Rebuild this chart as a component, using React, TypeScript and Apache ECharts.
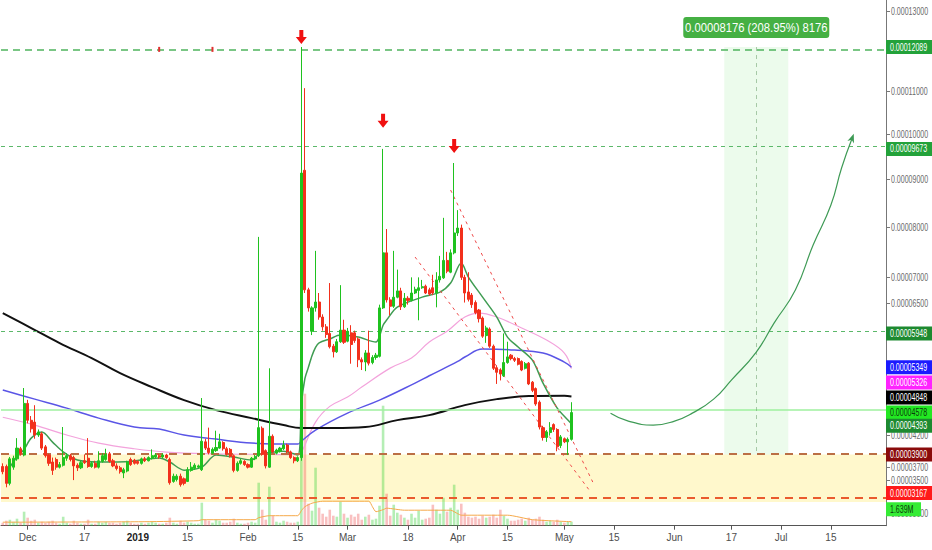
import React, { useEffect, useRef } from 'react';
import * as echarts from 'echarts';

// ---------- categories (daily, Nov 24 2018 .. Jul 30 2019) ----------
const FIRST_DAY_UTC = Date.UTC(2018, 10, 24);
const DAY_COUNT = 249;
const CATEGORIES: string[] = Array.from({ length: DAY_COUNT }, (_, i) =>
  new Date(FIRST_DAY_UTC + i * 86400000).toISOString().slice(0, 10)
);
const X_LABEL_DATES = [
  '2018-12-01', '2018-12-17', '2019-01-01', '2019-01-15', '2019-02-01', '2019-02-15',
  '2019-03-01', '2019-03-18', '2019-04-01', '2019-04-15', '2019-05-01', '2019-05-15',
  '2019-06-01', '2019-06-17', '2019-07-01', '2019-07-15',
];
const MONTHS = ['Jan', 'Feb', 'Mar', 'Apr', 'May', 'Jun', 'Jul', 'Aug', 'Sep', 'Oct', 'Nov', 'Dec'];

// ---------- price data in satoshi: [open, close, low, high] ----------
const CANDLES: number[][] = [
  [3710, 3630, 3590, 3760], [3710, 3450, 3390, 3740], [3450, 3830, 3420, 3860], [3700, 3840, 3660, 3880],
  [3830, 4000, 3800, 4160], [3990, 3920, 3880, 4020], [3890, 4730, 3870, 4990], [4730, 4450, 4400, 4790],
  [4450, 4310, 4250, 4520], [4420, 4210, 4150, 4700], [4210, 4260, 4180, 4300], [4230, 4000, 3970, 4260],
  [4020, 3880, 3850, 4050], [3890, 3760, 3720, 3910], [3780, 3650, 3580, 3850], [3820, 3700, 3660, 3850],
  [3700, 3740, 3680, 3780], [3730, 3850, 3710, 4340], [3840, 3880, 3800, 3920], [3880, 3820, 3790, 3910],
  [3850, 3720, 3500, 3880], [3730, 3690, 3640, 3760], [3690, 3770, 3670, 3800], [3800, 3770, 3750, 3900],
  [3840, 3710, 3690, 4160], [3710, 3760, 3690, 3790], [3760, 3700, 3680, 3800], [3700, 3800, 3680, 3950],
  [3790, 3880, 3770, 3920], [3820, 3900, 3800, 3990], [3910, 3790, 3770, 3940], [3800, 3720, 3700, 3830],
  [3720, 3680, 3650, 3760], [3690, 3630, 3600, 3720], [3610, 3660, 3530, 3690], [3640, 3780, 3620, 3800],
  [3820, 3740, 3720, 3850], [3810, 3760, 3740, 3830],
  // 2019
  [3790, 3760, 3740, 3810], [3760, 3830, 3740, 3850], [3830, 3800, 3780, 3860], [3800, 3850, 3790, 3870],
  [3840, 3880, 3820, 3980], [3860, 3890, 3840, 3920], [3880, 3860, 3830, 3910], [3860, 3890, 3840, 3920],
  [3890, 3850, 3830, 3910], [3820, 3460, 3430, 3850], [3480, 3560, 3460, 3600], [3510, 3560, 3480, 3590],
  [3560, 3430, 3400, 3600], [3520, 3450, 3420, 3540], [3480, 3660, 3470, 3700], [3650, 3700, 3630, 3780],
  [3680, 3730, 3660, 3760], [3700, 3720, 3680, 3740], [3660, 4110, 3640, 4820], [4100, 4000, 3970, 4150],
  [4000, 3930, 3900, 4330], [3920, 3980, 3900, 4010], [3960, 4010, 3940, 4280], [4000, 4100, 3990, 4230],
  [4090, 3990, 3960, 4110], [3990, 3910, 3880, 4020], [3980, 3870, 3850, 4000], [3880, 3650, 3620, 3900],
  [3650, 3760, 3630, 3790], [3760, 3800, 3740, 3830], [3790, 3740, 3720, 3810], [3740, 3700, 3680, 3760],
  [3700, 3840, 3690, 3860], [3830, 3860, 3810, 3890], [3880, 4330, 3860, 7800], [4320, 3900, 3880, 4350],
  [3960, 3720, 3680, 3980], [3700, 4190, 3690, 5330], [4190, 3940, 3920, 4220], [3920, 3970, 3900, 3990],
  [3950, 4000, 3930, 4020], [3990, 4050, 3970, 4120], [4050, 3940, 3920, 4070], [3940, 3850, 3830, 3960],
  [3850, 3800, 3760, 3870], [3800, 3850, 3780, 3870],
  // Feb 16 pump
  [3850, 9140, 3800, 12089], [9200, 6760, 6700, 11080], [6760, 6420, 6350, 6800], [5990, 6420, 5920, 6450],
  [6420, 6530, 6350, 7520], [6530, 6250, 6200, 6700], [6250, 6070, 6000, 6300], [6070, 5930, 5870, 6120],
  [5950, 5710, 5680, 6890], [5720, 5620, 5520, 5760], [5620, 5800, 5600, 5850], [5800, 6010, 5780, 6850],
  [6010, 5790, 5760, 6200], [5810, 5990, 5790, 6050], [5960, 5750, 5410, 6100], [5960, 5820, 5780, 6000],
  [5850, 5480, 5350, 5880], [5480, 5440, 5300, 5520], [5440, 5600, 5280, 5650], [5600, 5420, 5380, 6000],
  [5430, 5520, 5400, 5560], [5520, 5560, 5480, 5600], [5540, 6420, 5520, 6480], [6420, 7480, 6400, 9673],
  [7480, 6570, 6520, 7960], [6570, 6450, 6280, 6620], [6450, 6620, 6420, 7520], [6620, 6740, 6600, 7150],
  [6740, 6440, 6380, 6800], [6440, 6600, 6420, 6700], [6600, 6560, 6480, 6640], [6560, 6700, 6540, 7000],
  [6700, 6770, 6680, 6820], [6750, 6800, 6190, 7000], [6800, 6820, 6780, 6950], [6830, 6700, 6680, 6860],
  [6760, 6680, 6650, 6800], [6800, 6700, 6660, 7050], [6700, 6950, 6430, 7100], [6950, 7020, 6900, 7420],
  [6990, 7330, 6970, 8190], [7330, 7120, 7080, 7500], [7100, 7480, 7080, 7550], [7480, 7880, 7450, 9360],
  [7880, 7980, 7820, 8350], [7980, 7000, 6950, 8050], [7000, 6700, 6520, 7050], [6720, 6580, 6540, 7100],
  [6660, 6480, 6420, 6700], [6520, 6330, 6300, 6560], [6380, 6220, 6150, 6400], [6230, 5900, 5870, 6260],
  [5910, 6050, 5780, 6090], [6030, 5720, 5690, 6060], [5720, 5330, 5300, 5750], [5340, 5260, 5060, 5380],
  [5300, 5230, 5120, 5330], [5200, 5430, 5180, 5950], [5430, 5530, 5410, 5800], [5560, 5500, 5470, 5580],
  [5500, 5470, 5440, 5530], [5500, 5400, 5380, 5520], [5450, 5300, 5280, 5470], [5330, 5410, 5310, 5440],
  [5420, 5060, 5040, 5440], [5090, 4950, 4920, 5110], [4980, 4720, 4690, 5000], [4750, 4340, 4300, 4780],
  [4330, 4170, 4120, 4360], [4170, 4260, 4100, 4290], [4250, 4330, 4200, 4420], [4380, 4300, 4260, 4400],
  [4300, 4020, 3950, 4320], [4040, 4180, 4000, 4210], [4150, 4100, 4080, 4170], [4100, 4140, 3890, 4170],
  [4140, 4578, 4120, 4750],
];

// volume in millions
const VOLUME: number[] = [
  0.3, 0.5, 0.6, 0.4, 0.7, 0.3, 1.4, 0.8, 0.5, 0.6, 0.3, 0.4, 0.3, 0.4, 0.5, 0.3, 0.2, 0.9, 0.3, 0.2, 0.5,
  0.3, 0.2, 0.2, 0.6, 0.2, 0.2, 0.4, 0.3, 0.4, 0.3, 0.3, 0.2, 0.3, 0.4, 0.5, 0.3, 0.2, 0.2, 0.3, 0.2, 0.3,
  0.4, 0.3, 0.2, 0.2, 0.3, 0.8, 0.3, 0.2, 0.5, 0.3, 0.4, 0.3, 0.2, 0.2, 2.3, 0.6, 0.5, 0.3, 0.6, 0.5, 0.3,
  0.3, 0.4, 0.7, 0.3, 0.2, 0.2, 0.3, 0.4, 0.3, 4.3, 1.6, 0.6, 3.9, 1.0, 0.4, 0.3, 0.5, 0.4, 0.3, 0.3, 0.4,
  12.8, 13.2, 2.2, 1.5, 5.8, 1.8, 1.2, 0.9, 1.6, 1.0, 0.9, 2.4, 1.2, 0.8, 1.1, 0.9, 1.2, 0.6, 0.9, 1.1,
  0.6, 0.7, 2.0, 12.0, 3.2, 1.0, 2.1, 1.3, 1.1, 0.8, 0.6, 1.2, 0.8, 1.5, 0.6, 0.7, 0.8, 2.1, 1.6, 1.2,
  2.8, 1.4, 1.8, 4.1, 1.6, 2.2, 1.3, 0.9, 0.8, 0.9, 0.7, 1.0, 0.8, 0.9, 1.1, 0.8, 1.6, 1.0, 0.7, 0.5,
  0.5, 0.6, 0.7, 0.5, 0.8, 0.6, 0.7, 0.9, 0.6, 0.4, 0.5, 0.4, 0.6, 0.4, 0.3, 0.4, 0.4,
];
const VOLUME_MA: number[][] = [
  [0, 0.35], [40, 0.4], [55, 0.5], [56, 0.6], [71, 0.6], [72, 0.8], [75, 1.0], [83, 1.0], [84, 1.5], [85, 1.9],
  [87, 2.25], [90, 2.45], [103, 2.45], [104, 1.9], [105, 1.4], [107, 1.6], [108, 1.75], [113, 1.55], [126, 1.55],
  [128, 1.2], [129, 1.05], [142, 1.05], [149, 0.6], [160, 0.4],
];

// moving averages: [day index, satoshi]
const MA_BLACK: number[][] = [
  [0, 6324], [8, 6048], [16, 5776], [25, 5509], [33, 5246], [42, 5006], [51, 4785], [60, 4618], [70, 4486],
  [79, 4372], [84, 4322], [93, 4322], [102, 4339], [111, 4453], [120, 4535], [130, 4701], [139, 4802],
  [148, 4853], [158, 4858], [160, 4848],
];
const MA_BLUE: number[][] = [
  [0, 4955], [9, 4802], [18, 4651], [27, 4486], [37, 4339], [44, 4306], [51, 4209], [60, 4144], [70, 4080],
  [83, 4064], [84, 4110], [88, 4290], [97, 4568], [106, 4785], [116, 5074], [120, 5200], [128, 5450],
  [130, 5528], [135, 5669], [144, 5651], [152, 5598], [158, 5439], [160, 5349],
];
const MA_PINK: number[][] = [
  [0, 4500], [9, 4370], [18, 4210], [27, 4080], [37, 3990], [46, 3937], [60, 3910], [75, 3900], [83, 3895],
  [84, 3930], [88, 4420], [92, 4680], [97, 4836], [101, 5006], [109, 5333], [115, 5509], [120, 5794],
  [125, 5990], [130, 6250], [134, 6324], [139, 6250], [146, 6048], [153, 5830], [158, 5598], [160, 5326],
];
const EMA_GREEN: number[][] = [
  [2, 3700], [4, 3860], [6, 3980], [8, 4160], [11, 4258], [14, 4096], [17, 3940], [21, 3811], [27, 3780],
  [36, 3790], [44, 3842], [47, 3780], [51, 3654], [56, 3700], [60, 3890], [65, 3858], [70, 3811], [72, 3900],
  [74, 3920], [79, 3952], [83, 3890], [84, 4700], [85, 5150], [86, 5350], [87, 5550], [88, 5700], [89, 5780],
  [92, 5850], [95, 5920], [100, 5884], [105, 5794], [106, 5900], [107, 6100], [108, 6194], [111, 6435],
  [118, 6622], [123, 6718], [126, 6890], [129, 7278], [131, 7006], [135, 6622], [139, 6250], [142, 5884],
  [145, 5705], [149, 5474], [152, 5074], [156, 4651], [159, 4453], [160, 4393],
];

// drawings
const RESISTANCE_LEVELS = [12089, 9673, 5948];
const LAST_PRICE = 4578;
const ZONE_TOP = 3900;
const ZONE_BOTTOM = 3167;
const ARROWS: [string, number][] = [['2019-02-16', 12340], ['2019-03-11', 10310], ['2019-03-31', 9740]];
const TOP_MARKS: [string, number][] = [['2019-01-07', 12030], ['2019-01-22', 12030]];
const CHANNEL: [string, number][][] = [
  [['2019-03-30', 8774], ['2019-05-09', 3470]],
  [['2019-03-20', 7397], ['2019-05-08', 3348]],
];
const TARGET_BOX: [string, string, string] = ['2019-06-15', '2019-07-03', '2019-06-24'];
const PROJECTION: [string, number][] = [
  ['2019-05-14', 4568], ['2019-05-19', 4437], ['2019-05-26', 4372], ['2019-06-01', 4437], ['2019-06-06', 4568],
  ['2019-06-12', 4802], ['2019-06-17', 5126], ['2019-06-24', 5616], ['2019-06-29', 6139], ['2019-07-05', 6756],
  ['2019-07-10', 7636], ['2019-07-15', 8457], ['2019-07-18', 9250], ['2019-07-21', 9918],
];
const MEASURE_TEXT = '0.00008176 (208.95%) 8176';

// axis
const PRICE_MIN = 2818;
const PRICE_MAX = 13302;
const TICK_PRICES = [13000, 11000, 10000, 9000, 8000, 7000, 6500, 4200, 3700, 3500, 3000];
const VOLUME_MAX = 52.57;
const TAG_VALUES = [12089, 9673, 5948, 5349, 5326, 4848, 4578, 4393, 3900, 3167];
const VOLUME_TAG = 1.639;

// log-like price transform (TradingView scale)
const t = (sat: number) => Math.log(sat + 10000);
const fmtSat = (sat: number) => (sat / 1e8).toFixed(8);

const TAG_STYLES = [
  { bg: '#23a23a', fg: '#ffffff', shift: 0 },
  { bg: '#23a23a', fg: '#ffffff', shift: 0 },
  { bg: '#1d8a30', fg: '#ffffff', shift: 0 },
  { bg: '#1b1bff', fg: '#ffffff', shift: 0 },
  { bg: '#ff22ff', fg: '#ffffff', shift: 14 },
  { bg: '#000000', fg: '#ffffff', shift: 1 },
  { bg: '#22e822', fg: '#0b3b0b', shift: 0 },
  { bg: '#1d8a30', fg: '#ffffff', shift: 2 },
  { bg: '#8a0b0b', fg: '#ffffff', shift: 0 },
  { bg: '#ff1a1a', fg: '#ffffff', shift: -9 },
];

const UP = '#1fc21f';
const DOWN = '#f2301c';
const FONT = 'Liberation Sans';

export default function App() {
  const ref = useRef<HTMLDivElement>(null);

  useEffect(() => {
    if (!ref.current) return;
    const chart = echarts.init(ref.current, null, { renderer: 'svg' });
    const labelSet = new Set(X_LABEL_DATES);
    const toLine = (arr: number[][]) => arr.map(([i, v]) => [CATEGORIES[i], t(v)]);
    const last = PROJECTION[PROJECTION.length - 1];

    const option: any = {
      animation: false,
      backgroundColor: '#ffffff',
      grid: { left: 1, right: 46, top: 0, bottom: 24.3, containLabel: false },
      xAxis: {
        type: 'category',
        data: CATEGORIES,
        boundaryGap: true,
        axisLine: { lineStyle: { color: '#555', width: 1 } },
        axisTick: {
          show: true,
          alignWithLabel: true,
          length: 4,
          interval: (_i: number, v: string) => labelSet.has(v),
          lineStyle: { color: '#555' },
        },
        axisLabel: {
          interval: (_i: number, v: string) => labelSet.has(v),
          color: '#4d4d4d',
          fontSize: 10,
          fontFamily: FONT,
          margin: 7,
          formatter: (v: string) => {
            const [y, m, d] = v.split('-').map(Number);
            if (d === 1) return m === 1 ? `{yr|${y}}` : MONTHS[m - 1];
            return String(d);
          },
          rich: { yr: { fontWeight: 'bold', color: '#222', fontSize: 10, fontFamily: FONT } },
        },
        splitLine: { show: false },
      },
      yAxis: [
        {
          type: 'value',
          position: 'right',
          min: t(PRICE_MIN),
          max: t(PRICE_MAX),
          axisLine: { show: true, lineStyle: { color: '#777' } },
          axisTick: { show: true, length: 4, customValues: TICK_PRICES.map(t), lineStyle: { color: '#777' } },
          axisLabel: { show: false },
          splitLine: { show: false },
        },
        { type: 'value', min: 0, max: VOLUME_MAX, show: false, splitLine: { show: false } },
      ],
      series: [
        {
          type: 'line',
          name: 'zones',
          data: [],
          z: 1,
          silent: true,
          markArea: {
            silent: true,
            data: [
              [{ yAxis: t(ZONE_TOP), itemStyle: { color: '#fff8cc' } }, { yAxis: t(ZONE_BOTTOM) }],
              [
                { xAxis: TARGET_BOX[0], yAxis: t(RESISTANCE_LEVELS[0]), itemStyle: { color: 'rgba(150,235,150,0.18)' } },
                { xAxis: TARGET_BOX[1], yAxis: t(ZONE_TOP) },
              ],
            ],
          },
        },
        {
          type: 'bar',
          name: 'volume',
          yAxisIndex: 1,
          barWidth: 2.6,
          z: 2,
          data: VOLUME.map((v, i) => ({
            value: v,
            itemStyle: { color: CANDLES[i][1] >= CANDLES[i][0] ? 'rgba(60,210,60,0.38)' : 'rgba(240,90,90,0.38)' },
          })),
        },
        {
          type: 'line',
          name: 'volume ma',
          yAxisIndex: 1,
          z: 3,
          showSymbol: false,
          smooth: 0.2,
          lineStyle: { color: '#f5a94a', width: 1 },
          data: VOLUME_MA.map(([i, v]) => [CATEGORIES[i], v]),
        },
        {
          type: 'line', name: 'MA50', z: 4, showSymbol: false, smooth: 0.4,
          lineStyle: { color: '#f3a3dc', width: 1.2 }, data: toLine(MA_PINK),
        },
        {
          type: 'line', name: 'MA100', z: 4, showSymbol: false, smooth: 0.4,
          lineStyle: { color: '#5a55e6', width: 1.5 }, data: toLine(MA_BLUE),
        },
        {
          type: 'line', name: 'MA200', z: 4, showSymbol: false, smooth: 0.4,
          lineStyle: { color: '#111111', width: 2 }, data: toLine(MA_BLACK),
        },
        {
          type: 'line', name: 'EMA', z: 4, showSymbol: false, smooth: 0.3,
          lineStyle: { color: '#3f9c52', width: 1.5 }, data: toLine(EMA_GREEN),
        },
        {
          type: 'candlestick',
          name: 'price',
          z: 5,
          barWidth: 2.6,
          itemStyle: { color: UP, color0: DOWN, borderColor: UP, borderColor0: DOWN, borderWidth: 1 },
          data: CANDLES.map(([o, c, l, h]) => [t(o), t(c), t(l), t(h)]),
          markPoint: {
            silent: true,
            label: { show: false },
            data: [
              ...ARROWS.map(([d, p]) => ({
                coord: [d, t(p)],
                symbol: 'path://M3.5,0 H7.5 V7 H11 L5.5,14 L0,7 H3.5 Z',
                symbolSize: [11, 14],
                itemStyle: { color: '#f01010' },
              })),
              ...TOP_MARKS.map(([d, p]) => ({
                coord: [d, t(p)],
                symbol: 'rect',
                symbolSize: [2, 5],
                itemStyle: { color: '#e03030' },
              })),
            ],
          },
        },
        {
          type: 'line',
          name: 'drawings',
          data: [],
          z: 6,
          silent: true,
          markLine: {
            silent: true,
            symbol: ['none', 'none'],
            label: { show: false },
            data: [
              { yAxis: t(RESISTANCE_LEVELS[0]), lineStyle: { color: '#4fb45e', width: 1.5, type: [7, 5] } },
              { yAxis: t(RESISTANCE_LEVELS[1]), lineStyle: { color: '#5cb86a', width: 1, type: [4, 4] } },
              { yAxis: t(RESISTANCE_LEVELS[2]), lineStyle: { color: '#5cb86a', width: 1, type: [4, 4] } },
              { yAxis: t(LAST_PRICE), lineStyle: { color: '#9ff09f', width: 1.5, type: 'solid' } },
              { yAxis: t(ZONE_TOP), lineStyle: { color: '#bb6f45', width: 2, type: [8, 6] } },
              { yAxis: t(ZONE_BOTTOM), lineStyle: { color: '#ea5a2e', width: 2, type: [8, 6] } },
              [
                { coord: [TARGET_BOX[2], t(RESISTANCE_LEVELS[0])], lineStyle: { color: 'rgba(110,160,110,0.55)', width: 1, type: [4, 4] } },
                { coord: [TARGET_BOX[2], t(ZONE_TOP)] },
              ],
              ...CHANNEL.map(([a, b]) => [
                { coord: [a[0], t(a[1])], lineStyle: { color: '#ef4a4a', width: 1, type: [3, 4] } },
                { coord: [b[0], t(b[1])] },
              ]),
            ],
          },
        },
        {
          type: 'line',
          name: 'projection',
          z: 6,
          smooth: 0.5,
          showSymbol: false,
          lineStyle: { color: '#3e9a55', width: 1.2 },
          itemStyle: { color: '#3e9a55' },
          data: PROJECTION.map(([d, p]) => [d, t(p)]),
          markPoint: {
            silent: true,
            label: { show: false },
            data: [
              {
                coord: [last[0], t(last[1])],
                symbol: 'path://M0,10 L5,0 L10,10 L5,7 Z',
                symbolSize: [7, 9],
                symbolRotate: -20,
                itemStyle: { color: '#3e9a55' },
              },
            ],
          },
        },
      ],
    };

    chart.setOption(option);

    const yP = (sat: number) => chart.convertToPixel({ yAxisIndex: 0 }, t(sat)) as number;
    const yV = (v: number) => chart.convertToPixel({ yAxisIndex: 1 }, v) as number;
    const xP = (d: string) => chart.convertToPixel({ xAxisIndex: 0 }, d) as number;
    const axisX = 886;

    const elements: any[] = [];
    TICK_PRICES.forEach((p) => {
      elements.push({
        type: 'text', x: axisX + 5, y: yP(p), scaleX: 0.64, z: 50,
        style: { text: fmtSat(p), fill: '#6b6b6b', fontSize: 11, fontFamily: FONT, verticalAlign: 'middle', align: 'left' },
      });
    });
    TAG_VALUES.forEach((p, i) => {
      const s = TAG_STYLES[i];
      const yc = yP(p) + s.shift;
      elements.push({ type: 'rect', z: 100, shape: { x: axisX, y: yc - 7, width: 46, height: 14 }, style: { fill: s.bg } });
      elements.push({
        type: 'text', z: 101, x: axisX + 4, y: yc, scaleX: 0.64,
        style: { text: fmtSat(p), fill: s.fg, fontSize: 11, fontFamily: FONT, verticalAlign: 'middle', align: 'left' },
      });
    });
    const yv = yV(VOLUME_TAG);
    elements.push({ type: 'rect', z: 100, shape: { x: axisX, y: yv - 7, width: 35, height: 14 }, style: { fill: '#35ec35' } });
    elements.push({
      type: 'text', z: 101, x: axisX + 4, y: yv, scaleX: 0.64,
      style: { text: `${VOLUME_TAG}M`, fill: '#0b3b0b', fontSize: 11, fontFamily: FONT, verticalAlign: 'middle', align: 'left' },
    });
    const xc = xP(TARGET_BOX[2]);
    const yTop = yP(RESISTANCE_LEVELS[0]);
    elements.push({ type: 'rect', z: 100, shape: { x: xc - 73, y: yTop - 30, width: 146, height: 21, r: 3 }, style: { fill: '#45b043' } });
    elements.push({
      type: 'text', z: 101, x: xc, y: yTop - 19.5, scaleX: 0.9,
      style: { text: MEASURE_TEXT, fill: '#ffffff', fontSize: 12.5, fontFamily: FONT, verticalAlign: 'middle', align: 'center' },
    });

    chart.setOption({ graphic: { elements } });

    return () => chart.dispose();
  }, []);

  return (
    <div
      ref={ref}
      style={{ position: 'fixed', left: 0, top: 0, width: 932, height: 550, background: '#ffffff' }}
    />
  );
}
